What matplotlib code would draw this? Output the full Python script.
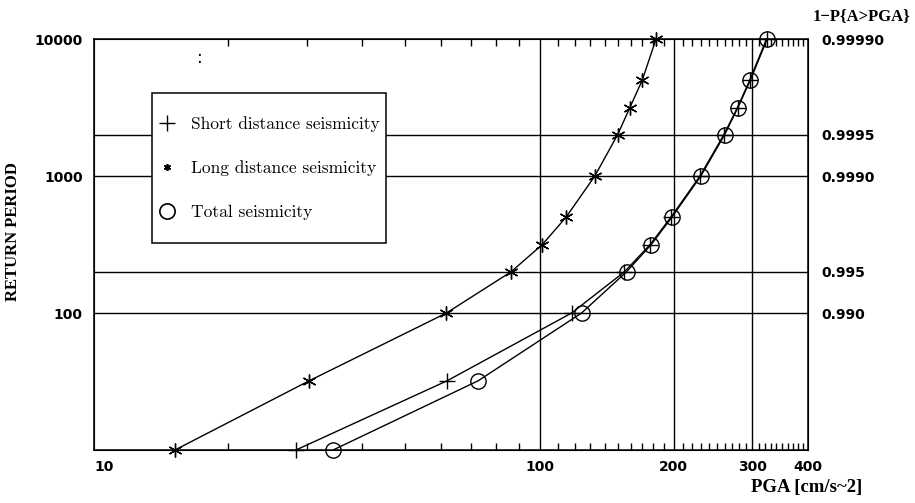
import numpy as np
import matplotlib
matplotlib.use('Agg')
import matplotlib.pyplot as plt
from matplotlib.lines import Line2D
from matplotlib.patches import Rectangle

# return periods (years)
return_period = [10, 32, 100, 200, 316, 500, 1000, 2000, 3160, 5000, 10000]

# PGA [cm/s^2]
pga_short = [28.4, 62, 118, 155, 177, 197, 229, 259, 278, 296, 323]
pga_long = [15.2, 30.4, 61.8, 86.3, 101.4, 114.6, 133, 149.6, 159.4, 169.9, 182.5]
pga_total = [34.4, 72.8, 124.2, 156.7, 178, 198, 230, 260, 278.5, 297, 324]

hlines = [100, 200, 1000, 2000]
vlines = [100, 200, 300]
right_ticks = [100, 200, 1000, 2000, 10000]
right_labels = ['0.990', '0.995', '0.9990', '0.9995', '0.99990']

serif = ['cmr10', 'DejaVu Serif']
labfont = dict(family='Liberation Serif', weight='bold', size=12)
tickfont = dict(family='DejaVu Sans', weight='bold', size=10)

fig = plt.figure(figsize=(9.15, 5.03), dpi=100)
ax = fig.add_axes([0.1027, 0.1054, 0.7803, 0.817])

for h in hlines:
    ax.axhline(h, color='black', lw=1.0, zorder=1)
for v in vlines:
    ax.axvline(v, color='black', lw=1.0, zorder=1)

ax.plot(pga_long, return_period, color='black', lw=1.0, marker=(6, 2, 0),
        ms=10, mew=1.0, zorder=3, clip_on=False)
ax.plot(pga_short, return_period, color='black', lw=1.0, marker='+',
        ms=12, mew=1.0, zorder=3, clip_on=False)
ax.plot(pga_total, return_period, color='black', lw=1.0, marker='o',
        ms=11, mfc='none', mew=1.0, zorder=3, clip_on=False)

ax.set_xscale('log')
ax.set_yscale('log')
ax.set_xlim(10, 400)
ax.set_ylim(10, 10000)

ax.set_xticks([10, 100, 200, 300, 400])
ax.set_xticklabels(['10', '100', '200', '300', '400'], **tickfont)
ax.get_xticklabels()[0].set_horizontalalignment('left')
minor_x = list(range(20, 100, 10)) + list(range(110, 200, 10)) + \
    list(range(210, 300, 10)) + list(range(310, 400, 10))
ax.set_xticks(minor_x, minor=True)
ax.tick_params(axis='x', which='minor', direction='in', length=5, width=1,
               top=True, bottom=True, labelbottom=False)
ax.tick_params(axis='x', which='major', direction='in', length=0, pad=7)

ax.set_yticks([100, 1000, 10000])
ax.set_yticklabels(['100', '1000', '10000'], **tickfont)
ax.yaxis.set_minor_locator(matplotlib.ticker.NullLocator())
ax.tick_params(axis='y', which='major', length=0, pad=8)

for s in ax.spines.values():
    s.set_linewidth(1.1)

ax2 = ax.twinx()
ax2.set_yscale('log')
ax2.set_ylim(10, 10000)
ax2.set_yticks(right_ticks)
ax2.set_yticklabels(right_labels, **tickfont)
ax2.yaxis.set_minor_locator(matplotlib.ticker.NullLocator())
ax2.tick_params(axis='y', length=0, pad=10)

# legend box
box = Rectangle((0.0812, 0.5036), 0.3277, 0.365, transform=ax.transAxes,
                facecolor='white', edgecolor='black', lw=1.1, zorder=4)
ax.add_patch(box)

handles = [
    Line2D([], [], color='black', ls='none', marker='+', ms=11, mew=1.0),
    Line2D([], [], color='black', ls='none', marker=(6, 2, 0), ms=5, mew=1.2),
    Line2D([], [], color='black', ls='none', marker='o', ms=11, mfc='none', mew=1.2),
]
labels = ['Short distance seismicity', 'Long distance seismicity', 'Total seismicity']
leg = ax.legend(handles, labels, loc='upper left', bbox_to_anchor=(0.0896, 0.8125),
                frameon=False, prop=dict(family=serif, size=12.5),
                labelspacing=1.65, borderpad=0, handlelength=1.0,
                handletextpad=0.9, borderaxespad=0)
leg.set_zorder(5)

fig.text(0.0142, 0.539, 'RETURN PERIOD', rotation=90, ha='center', va='center',
         **labfont)
fig.text(0.882, 0.030, 'PGA [cm/s~2]', ha='center', va='center',
         family='Liberation Serif', weight='bold', size=13.5)
fig.text(0.942, 0.968, '1\u2212P{A>PGA}', ha='center', va='center', **labfont)
fig.text(0.218, 0.885, ':', ha='center', va='center', size=12)

fig.savefig('out.png', dpi=100)
